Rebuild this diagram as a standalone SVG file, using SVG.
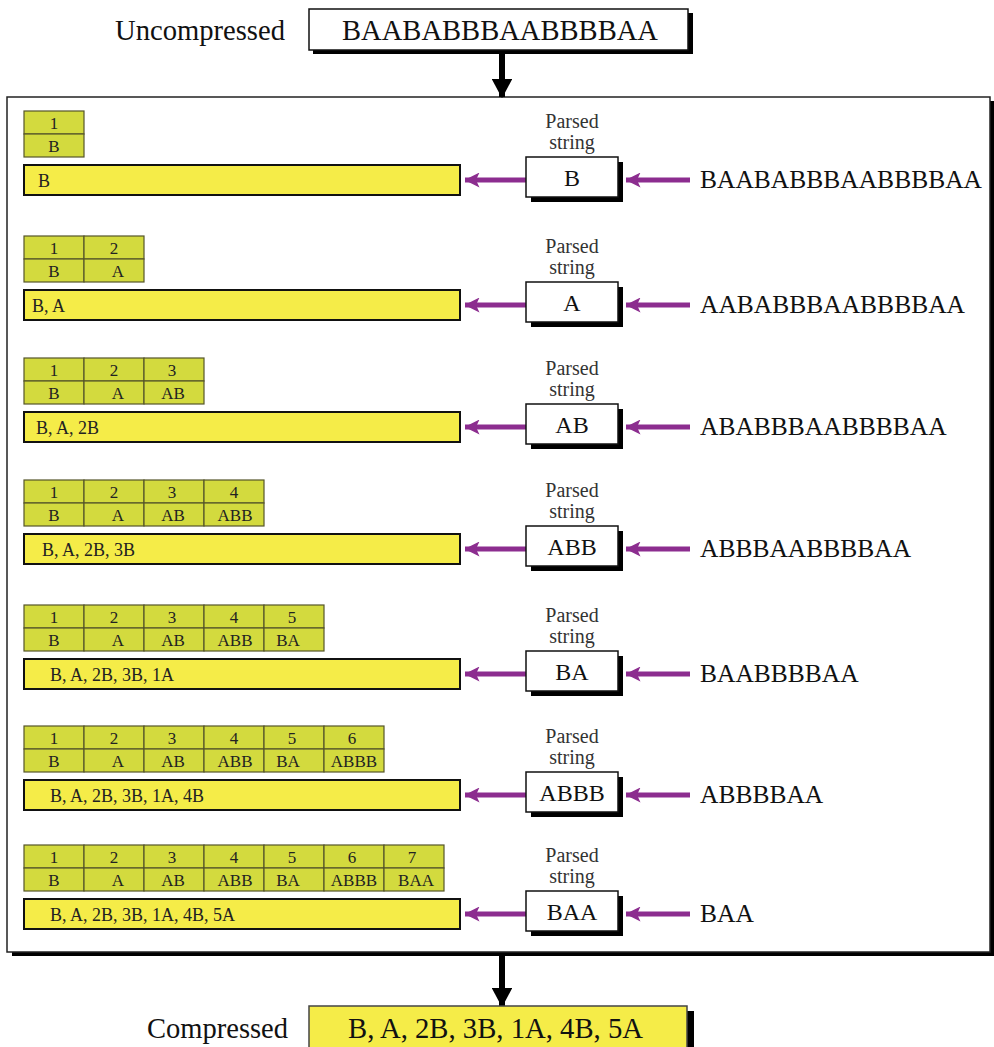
<svg xmlns="http://www.w3.org/2000/svg" width="994" height="1047" viewBox="0 0 994 1047">
<style>
text{font-family:"Liberation Serif","Times New Roman",serif;fill:#111}
.big{font-size:28.5px}
.mid{font-size:25.5px}
.pbx{font-size:24px;text-anchor:middle}
.lbl{font-size:20px;text-anchor:middle;fill:#333}
.sm{font-size:17px;text-anchor:middle;fill:#222}
.bt{font-size:18px;fill:#222}
.cell{fill:#d3da3e;stroke:#55552a;stroke-width:1.2}
.bar{fill:#f5ec48;stroke:#111;stroke-width:2}
.wbox{fill:#fff;stroke:#111;stroke-width:1.5}
.shadow{fill:#000}
.parr{stroke:#8c2d8f;stroke-width:5;fill:none}
.karr{stroke:#000;stroke-width:6;fill:none}
</style>
<defs>
<marker id="pa" markerWidth="3" markerHeight="3" refX="2.9" refY="1.5" orient="auto" markerUnits="strokeWidth">
<path d="M0,0 L3,1.5 L0,3 L0.7,1.5 Z" fill="#8c2d8f"/>
</marker>
<marker id="ka" markerWidth="3.2" markerHeight="3.4" refX="3" refY="1.7" orient="auto" markerUnits="strokeWidth">
<path d="M0,0 L3.2,1.7 L0,3.4 Z" fill="#000"/>
</marker>
<g id="ps">
<text class="lbl" x="572" y="-52">Parsed</text>
<text class="lbl" x="572" y="-31">string</text>
<rect class="shadow" x="531" y="-18" width="92" height="40"/>
<rect class="wbox" x="526" y="-23" width="92" height="40"/>
</g>
</defs>

<g id="uncompressed">
<text class="big" x="115" y="40" textLength="170" lengthAdjust="spacingAndGlyphs">Uncompressed</text>
<rect class="shadow" x="313" y="13" width="380" height="41"/>
<rect class="wbox" x="309" y="9" width="379" height="41"/>
<text class="big" x="342" y="40" textLength="316" lengthAdjust="spacingAndGlyphs">BAABABBBAABBBBAA</text>
</g>

<g id="frame">
<rect class="shadow" x="12" y="101" width="982" height="855"/>
<rect x="7" y="97" width="983" height="855" fill="#fff" stroke="#222" stroke-width="1.5"/>
</g>

<g id="connectors">
<line class="karr" x1="502" y1="54" x2="502" y2="97" marker-end="url(#ka)"/>
<line class="karr" x1="502" y1="956" x2="502" y2="1006" marker-end="url(#ka)"/>
<line class="parr" x1="527" y1="180" x2="465" y2="180" marker-end="url(#pa)"/>
<line class="parr" x1="690" y1="180" x2="626" y2="180" marker-end="url(#pa)"/>
<line class="parr" x1="527" y1="305" x2="465" y2="305" marker-end="url(#pa)"/>
<line class="parr" x1="690" y1="305" x2="626" y2="305" marker-end="url(#pa)"/>
<line class="parr" x1="527" y1="427" x2="465" y2="427" marker-end="url(#pa)"/>
<line class="parr" x1="690" y1="427" x2="626" y2="427" marker-end="url(#pa)"/>
<line class="parr" x1="527" y1="549" x2="465" y2="549" marker-end="url(#pa)"/>
<line class="parr" x1="690" y1="549" x2="626" y2="549" marker-end="url(#pa)"/>
<line class="parr" x1="527" y1="674" x2="465" y2="674" marker-end="url(#pa)"/>
<line class="parr" x1="690" y1="674" x2="626" y2="674" marker-end="url(#pa)"/>
<line class="parr" x1="527" y1="795" x2="465" y2="795" marker-end="url(#pa)"/>
<line class="parr" x1="690" y1="795" x2="626" y2="795" marker-end="url(#pa)"/>
<line class="parr" x1="527" y1="914" x2="465" y2="914" marker-end="url(#pa)"/>
<line class="parr" x1="690" y1="914" x2="626" y2="914" marker-end="url(#pa)"/>
</g>

<!-- Step 1 -->
<g id="step1" transform="translate(0,180)">
<rect class="cell" x="24" y="-69" width="60" height="23"/><rect class="cell" x="24" y="-46" width="60" height="23"/>
<text class="sm" x="54" y="-51">1</text><text class="sm" x="54" y="-28">B</text>
<rect class="bar" x="24" y="-15" width="436" height="30"/>
<text class="bt" x="38" y="7">B</text>
<use href="#ps"/>
<text class="pbx" x="572" y="6">B</text>
<text class="mid" x="700" y="8">BAABABBBAABBBBAA</text>
</g>

<!-- Step 2 -->
<g id="step2" transform="translate(0,305)">
<rect class="cell" x="24" y="-69" width="60" height="23"/><rect class="cell" x="24" y="-46" width="60" height="23"/>
<rect class="cell" x="84" y="-69" width="60" height="23"/><rect class="cell" x="84" y="-46" width="60" height="23"/>
<text class="sm" x="54" y="-51">1</text><text class="sm" x="54" y="-28">B</text>
<text class="sm" x="114" y="-51">2</text><text class="sm" x="118" y="-28">A</text>
<rect class="bar" x="24" y="-15" width="436" height="30"/>
<text class="bt" x="32" y="7">B, A</text>
<use href="#ps"/>
<text class="pbx" x="572" y="6">A</text>
<text class="mid" x="700" y="8">AABABBBAABBBBAA</text>
</g>

<!-- Step 3 -->
<g id="step3" transform="translate(0,427)">
<rect class="cell" x="24" y="-69" width="60" height="23"/><rect class="cell" x="24" y="-46" width="60" height="23"/>
<rect class="cell" x="84" y="-69" width="60" height="23"/><rect class="cell" x="84" y="-46" width="60" height="23"/>
<rect class="cell" x="144" y="-69" width="60" height="23"/><rect class="cell" x="144" y="-46" width="60" height="23"/>
<text class="sm" x="54" y="-51">1</text><text class="sm" x="54" y="-28">B</text>
<text class="sm" x="114" y="-51">2</text><text class="sm" x="118" y="-28">A</text>
<text class="sm" x="172" y="-51">3</text><text class="sm" x="173" y="-28">AB</text>
<rect class="bar" x="24" y="-15" width="436" height="30"/>
<text class="bt" x="36" y="7">B, A, 2B</text>
<use href="#ps"/>
<text class="pbx" x="572" y="6">AB</text>
<text class="mid" x="700" y="8">ABABBBAABBBBAA</text>
</g>

<!-- Step 4 -->
<g id="step4" transform="translate(0,549)">
<rect class="cell" x="24" y="-69" width="60" height="23"/><rect class="cell" x="24" y="-46" width="60" height="23"/>
<rect class="cell" x="84" y="-69" width="60" height="23"/><rect class="cell" x="84" y="-46" width="60" height="23"/>
<rect class="cell" x="144" y="-69" width="60" height="23"/><rect class="cell" x="144" y="-46" width="60" height="23"/>
<rect class="cell" x="204" y="-69" width="60" height="23"/><rect class="cell" x="204" y="-46" width="60" height="23"/>
<text class="sm" x="54" y="-51">1</text><text class="sm" x="54" y="-28">B</text>
<text class="sm" x="114" y="-51">2</text><text class="sm" x="118" y="-28">A</text>
<text class="sm" x="172" y="-51">3</text><text class="sm" x="173" y="-28">AB</text>
<text class="sm" x="234" y="-51">4</text><text class="sm" x="235" y="-28">ABB</text>
<rect class="bar" x="24" y="-15" width="436" height="30"/>
<text class="bt" x="42" y="7">B, A, 2B, 3B</text>
<use href="#ps"/>
<text class="pbx" x="572" y="6">ABB</text>
<text class="mid" x="700" y="8">ABBBAABBBBAA</text>
</g>

<!-- Step 5 -->
<g id="step5" transform="translate(0,674)">
<rect class="cell" x="24" y="-69" width="60" height="23"/><rect class="cell" x="24" y="-46" width="60" height="23"/>
<rect class="cell" x="84" y="-69" width="60" height="23"/><rect class="cell" x="84" y="-46" width="60" height="23"/>
<rect class="cell" x="144" y="-69" width="60" height="23"/><rect class="cell" x="144" y="-46" width="60" height="23"/>
<rect class="cell" x="204" y="-69" width="60" height="23"/><rect class="cell" x="204" y="-46" width="60" height="23"/>
<rect class="cell" x="264" y="-69" width="60" height="23"/><rect class="cell" x="264" y="-46" width="60" height="23"/>
<text class="sm" x="54" y="-51">1</text><text class="sm" x="54" y="-28">B</text>
<text class="sm" x="114" y="-51">2</text><text class="sm" x="118" y="-28">A</text>
<text class="sm" x="172" y="-51">3</text><text class="sm" x="173" y="-28">AB</text>
<text class="sm" x="234" y="-51">4</text><text class="sm" x="235" y="-28">ABB</text>
<text class="sm" x="292" y="-51">5</text><text class="sm" x="288" y="-28">BA</text>
<rect class="bar" x="24" y="-15" width="436" height="30"/>
<text class="bt" x="50" y="7">B, A, 2B, 3B, 1A</text>
<use href="#ps"/>
<text class="pbx" x="572" y="6">BA</text>
<text class="mid" x="700" y="8">BAABBBBAA</text>
</g>

<!-- Step 6 -->
<g id="step6" transform="translate(0,795)">
<rect class="cell" x="24" y="-69" width="60" height="23"/><rect class="cell" x="24" y="-46" width="60" height="23"/>
<rect class="cell" x="84" y="-69" width="60" height="23"/><rect class="cell" x="84" y="-46" width="60" height="23"/>
<rect class="cell" x="144" y="-69" width="60" height="23"/><rect class="cell" x="144" y="-46" width="60" height="23"/>
<rect class="cell" x="204" y="-69" width="60" height="23"/><rect class="cell" x="204" y="-46" width="60" height="23"/>
<rect class="cell" x="264" y="-69" width="60" height="23"/><rect class="cell" x="264" y="-46" width="60" height="23"/>
<rect class="cell" x="324" y="-69" width="60" height="23"/><rect class="cell" x="324" y="-46" width="60" height="23"/>
<text class="sm" x="54" y="-51">1</text><text class="sm" x="54" y="-28">B</text>
<text class="sm" x="114" y="-51">2</text><text class="sm" x="118" y="-28">A</text>
<text class="sm" x="172" y="-51">3</text><text class="sm" x="173" y="-28">AB</text>
<text class="sm" x="234" y="-51">4</text><text class="sm" x="235" y="-28">ABB</text>
<text class="sm" x="292" y="-51">5</text><text class="sm" x="288" y="-28">BA</text>
<text class="sm" x="352" y="-51">6</text><text class="sm" x="354" y="-28">ABBB</text>
<rect class="bar" x="24" y="-15" width="436" height="30"/>
<text class="bt" x="50" y="7">B, A, 2B, 3B, 1A, 4B</text>
<use href="#ps"/>
<text class="pbx" x="572" y="6">ABBB</text>
<text class="mid" x="700" y="8">ABBBBAA</text>
</g>

<!-- Step 7 -->
<g id="step7" transform="translate(0,914)">
<rect class="cell" x="24" y="-69" width="60" height="23"/><rect class="cell" x="24" y="-46" width="60" height="23"/>
<rect class="cell" x="84" y="-69" width="60" height="23"/><rect class="cell" x="84" y="-46" width="60" height="23"/>
<rect class="cell" x="144" y="-69" width="60" height="23"/><rect class="cell" x="144" y="-46" width="60" height="23"/>
<rect class="cell" x="204" y="-69" width="60" height="23"/><rect class="cell" x="204" y="-46" width="60" height="23"/>
<rect class="cell" x="264" y="-69" width="60" height="23"/><rect class="cell" x="264" y="-46" width="60" height="23"/>
<rect class="cell" x="324" y="-69" width="60" height="23"/><rect class="cell" x="324" y="-46" width="60" height="23"/>
<rect class="cell" x="384" y="-69" width="60" height="23"/><rect class="cell" x="384" y="-46" width="60" height="23"/>
<text class="sm" x="54" y="-51">1</text><text class="sm" x="54" y="-28">B</text>
<text class="sm" x="114" y="-51">2</text><text class="sm" x="118" y="-28">A</text>
<text class="sm" x="172" y="-51">3</text><text class="sm" x="173" y="-28">AB</text>
<text class="sm" x="234" y="-51">4</text><text class="sm" x="235" y="-28">ABB</text>
<text class="sm" x="292" y="-51">5</text><text class="sm" x="288" y="-28">BA</text>
<text class="sm" x="352" y="-51">6</text><text class="sm" x="354" y="-28">ABBB</text>
<text class="sm" x="412" y="-51">7</text><text class="sm" x="416" y="-28">BAA</text>
<rect class="bar" x="24" y="-15" width="436" height="30"/>
<text class="bt" x="50" y="7">B, A, 2B, 3B, 1A, 4B, 5A</text>
<use href="#ps"/>
<text class="pbx" x="572" y="6">BAA</text>
<text class="mid" x="700" y="8">BAA</text>
</g>

<g id="compressed">
<text class="big" x="147" y="1038" textLength="141" lengthAdjust="spacingAndGlyphs">Compressed</text>
<rect class="shadow" x="314" y="1011" width="380" height="45"/>
<rect x="309" y="1006" width="378" height="45" fill="#f5ec48" stroke="#444" stroke-width="1.5"/>
<text class="big" x="348" y="1038" textLength="295" lengthAdjust="spacingAndGlyphs">B, A, 2B, 3B, 1A, 4B, 5A</text>
</g>
</svg>
